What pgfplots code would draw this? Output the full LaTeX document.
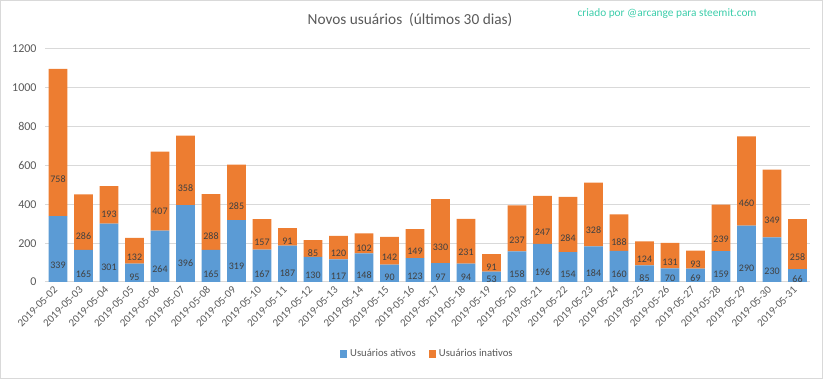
\documentclass[border=0pt]{standalone}
\usepackage{pgfplots}
\usepackage{pgfplotstable}
\pgfplotsset{compat=1.18}
\usepackage{fontspec}
\setmainfont{Carlito}
\definecolor{cblue}{HTML}{5B9BD5}
\definecolor{corange}{HTML}{ED7D31}
\definecolor{txtgray}{HTML}{595959}
\definecolor{lblgray}{HTML}{404040}
\definecolor{gridgray}{HTML}{D9D9D9}
\definecolor{teal}{RGB}{60,205,170}
\pgfplotstableread{
x a b
0 339 758
1 165 286
2 301 193
3 95 132
4 264 407
5 396 358
6 165 288
7 319 285
8 167 157
9 187 91
10 130 85
11 117 120
12 148 102
13 90 142
14 123 149
15 97 330
16 94 231
17 53 91
18 158 237
19 196 247
20 154 284
21 184 328
22 160 188
23 85 124
24 70 131
25 69 93
26 159 239
27 290 460
28 230 349
29 66 258
}\data
\begin{document}
\begin{tikzpicture}
\draw[gridgray, line width=0.75pt] (0.4pt,0.4pt) rectangle (616.85pt,283.85pt);
\begin{axis}[
  at={(33.94pt,72.75pt)}, anchor=south west,
  scale only axis, width=573.75pt, height=174.75pt,
  ybar stacked, bar width=14pt,
  xmin=-0.5, xmax=29.5, ymin=0, ymax=1200,
  ytick={0,200,...,1200},
  xtick=data,
  xticklabels={2019-05-02,2019-05-03,2019-05-04,2019-05-05,2019-05-06,2019-05-07,2019-05-08,2019-05-09,2019-05-10,2019-05-11,2019-05-12,2019-05-13,2019-05-14,2019-05-15,2019-05-16,2019-05-17,2019-05-18,2019-05-19,2019-05-20,2019-05-21,2019-05-22,2019-05-23,2019-05-24,2019-05-25,2019-05-26,2019-05-27,2019-05-28,2019-05-29,2019-05-30,2019-05-31},
  /pgf/number format/assume math mode=true,
  /pgf/number format/1000 sep={},
  ymajorgrids, grid style={gridgray, line width=0.75pt},
  axis x line*=bottom, axis y line*=left,
  x axis line style={draw=gridgray, line width=0.75pt},
  y axis line style={draw=none},
  major tick length=0pt,
  tick label style={color=txtgray},
  yticklabel style={font=\fontsize{9}{10}\selectfont, xshift=-3pt},
  xticklabel style={font=\fontsize{8.2}{10}\selectfont, yshift=-4pt, xshift=-1pt, rotate=45, anchor=east, inner sep=1pt},
  legend style={at={(0.5,-0.309)}, anchor=center, draw=none, font=\fontsize{8}{9}\selectfont\color{txtgray}, legend columns=2, /tikz/every even column/.append style={column sep=8pt}},
  legend image code/.code={\fill[#1] (0pt,-2.7pt) rectangle (5.4pt,2.7pt);},
  nodes near coords,
  point meta=explicit,
  every node near coord/.append style={font=\fontsize{7.5}{8}\selectfont, color=lblgray, anchor=center},
]
\addplot[fill=cblue, draw=none, visualization depends on={\thisrow{a} \as \va},
  every node near coord/.append style={yshift=-\va*0.03640625pt}]
  table[x=x, y=a, meta=a]{\data};
\addplot[fill=corange, draw=none, visualization depends on={\thisrow{b} \as \vb},
  every node near coord/.append style={yshift=-\vb*0.03640625pt}]
  table[x=x, y=b, meta=b]{\data};
\legend{Usuários ativos, Usuários inativos}
\end{axis}
\node[color=txtgray, font=\fontsize{11.5}{13}\selectfont] at (307.5pt,269.25pt) {Novos usuários\ \ (últimos\ 30 dias)};
\node[color=teal, font=\fontsize{8.5}{10}\selectfont] at (500.25pt,273.75pt) {criado por @arcange para steemit.com};
\end{tikzpicture}
\end{document}
